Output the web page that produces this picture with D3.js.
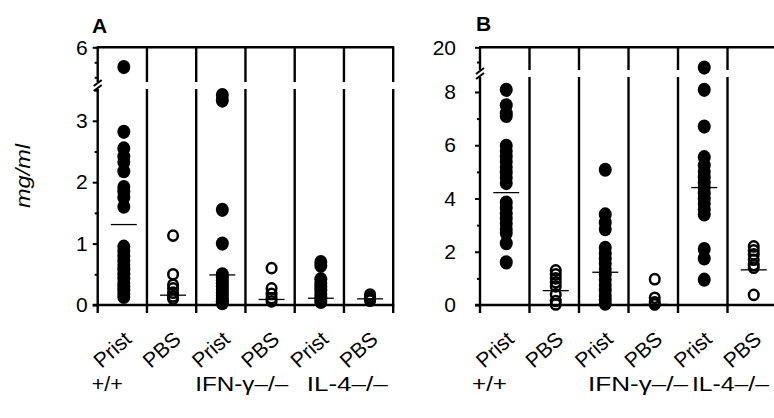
<!DOCTYPE html>
<html><head><meta charset="utf-8">
<script src="https://cdn.jsdelivr.net/npm/d3@7"></script>
<style>
body{margin:0;background:#fff;}
svg{display:block;font-family:"Liberation Sans",Arial,Helvetica,sans-serif;}
</style></head>
<body><svg id="chart" width="774" height="418"></svg>
<script>
// ---------- data ----------
const categories = ["Prist","PBS","Prist","PBS","Prist","PBS"];
const groups = ["+/+","IFN-γ–/–","IL-4–/–"];
const filledCat = [true,false,true,false,true,false];

// Panel A (mg/ml)
const aWtPrist  = [5.34,2.82,2.55,2.42,2.33,2.18,1.92,1.85,1.75,1.6,0.95,0.88,0.8,0.72,0.65,0.58,0.5,0.43,0.36,0.3,0.24,0.18,0.13];
const aWtPbs    = [1.13,0.5,0.33,0.27,0.2,0.14,0.1];
const aIfnPrist = [3.42,3.33,1.55,1.0,0.5,0.45,0.4,0.35,0.3,0.25,0.2,0.15,0.1,0.06,0.03];
const aIfnPbs   = [0.6,0.27,0.18,0.11,0.06];
const aIl4Prist = [0.7,0.64,0.42,0.36,0.3,0.24,0.18,0.12,0.08,0.05];
const aIl4Pbs   = [0.17,0.13,0.1,0.07];
const aMeans    = [1.31,0.16,0.49,0.09,0.11,0.1];
const aTicksMajorLow = [0,1,2,3];
const aTicksMinorLow = [0.5,1.5,2.5,3.5];
const aTicksMajorHigh = [6];
const aTicksMinorHigh = [5,5.5];

// Panel B (mg/ml)
const bWtPrist  = [8.08,7.5,7.2,7.1,5.98,5.78,5.58,5.38,5.18,4.98,4.78,4.58,3.85,3.65,3.45,3.25,3.05,2.85,2.7,2.32,1.6];
const bWtPbs    = [1.3,1.15,1.0,0.85,0.7,0.4,0.15,0.02];
const bIfnPrist = [5.08,3.4,3.1,2.85,2.15,1.95,1.75,1.55,1.35,1.15,0.95,0.75,0.55,0.35,0.2,0.05];
const bIfnPbs   = [0.97,0.27,0.1,0.02];
const bIl4Prist = [13.1,8.08,6.7,5.55,5.25,5.0,4.8,4.6,4.4,4.2,4.0,3.8,3.6,3.4,2.1,1.75,0.95];
const bIl4Pbs   = [2.2,2.05,1.9,1.7,1.5,1.4,0.38];
const bMeans    = [4.22,0.54,1.23,0.02,4.41,1.32];
const bTicksMajorLow = [0,2,4,6,8];
const bTicksMinorLow = [1,3,5,7];
const bTicksMajorHigh = [20];
const bTicksMinorHigh = [15];

// ---------- drawing ----------
const svg = d3.select("#chart");
const FONT = '"Liberation Sans",Arial,Helvetica,sans-serif';
const LW = 2.4;

function drawPanel(cfg){
  const g = svg.append("g");
  const x = d3.scaleBand().domain(d3.range(categories.length)).range([cfg.x0, cfg.x0 + cfg.w]).padding(0);
  const lo = d3.scaleLinear().domain(cfg.lowDomain).range([cfg.yBottom, cfg.lowTopY]);
  const hi = d3.scaleLinear().domain(cfg.highDomain).range(cfg.highRange);
  const y = v => v > cfg.lowDomain[1] ? hi(v) : lo(v);
  const step = x.step();
  const cx = i => x(i) + step/2 + 1.5;

  // separators & right edge
  for(let k=1;k<=categories.length;k++){
    const xx = cfg.x0 + k*step;
    g.append("line").attr("x1",xx).attr("x2",xx).attr("y1",cfg.yTop).attr("y2",cfg.gap[0]).attr("stroke","#000").attr("stroke-width",LW);
    g.append("line").attr("x1",xx).attr("x2",xx).attr("y1",cfg.gap[1]).attr("y2",cfg.yBottom).attr("stroke","#000").attr("stroke-width",LW);
  }
  // bottom ticks
  for(let k=0;k<=categories.length;k++){
    const xx = cfg.x0 + k*step;
    g.append("line").attr("x1",xx).attr("x2",xx).attr("y1",cfg.yBottom).attr("y2",cfg.yBottom+8).attr("stroke","#000").attr("stroke-width",LW);
  }
  // top & bottom lines
  g.append("line").attr("x1",cfg.x0-1).attr("x2",cfg.x0+cfg.w+1).attr("y1",cfg.yTop).attr("y2",cfg.yTop).attr("stroke","#000").attr("stroke-width",LW);
  g.append("line").attr("x1",cfg.x0-5).attr("x2",cfg.x0+cfg.w+1).attr("y1",cfg.yBottom).attr("y2",cfg.yBottom).attr("stroke","#000").attr("stroke-width",LW);
  // y axis segments
  g.append("line").attr("x1",cfg.x0).attr("x2",cfg.x0).attr("y1",cfg.yTop).attr("y2",cfg.gap[0]).attr("stroke","#000").attr("stroke-width",LW);
  g.append("line").attr("x1",cfg.x0).attr("x2",cfg.x0).attr("y1",cfg.gap[1]).attr("y2",cfg.yBottom).attr("stroke","#000").attr("stroke-width",LW);
  // break slashes
  [cfg.gap[0]+1, cfg.gap[1]-1].forEach(yy=>{
    g.append("line").attr("x1",cfg.x0-4).attr("x2",cfg.x0+4).attr("y1",yy+3).attr("y2",yy-3).attr("stroke","#000").attr("stroke-width",2);
  });

  function axis(scale, major, minor){
    const ga = g.append("g").attr("transform",`translate(${cfg.x0},0)`);
    ga.call(d3.axisLeft(scale).tickValues(major).tickSize(5).tickPadding(cfg.pad).tickFormat(d3.format("d")));
    const gm = g.append("g").attr("transform",`translate(${cfg.x0},0)`);
    gm.call(d3.axisLeft(scale).tickValues(minor).tickSize(3).tickFormat(""));
    [ga,gm].forEach(a=>{
      a.select(".domain").remove();
      a.selectAll("line").attr("stroke","#000").attr("stroke-width",2);
      a.selectAll("text").attr("font-size",21).attr("font-family",FONT).attr("fill","#000");
    });
  }
  axis(lo, cfg.majLow, cfg.minLow);
  axis(hi, cfg.majHigh, cfg.minHigh);

  // points
  cfg.series.forEach((vals,i)=>{
    const sel = g.append("g").selectAll("ellipse").data(vals).enter().append("ellipse")
      .attr("cx", cx(i)).attr("cy", d=>y(d));
    if(filledCat[i]){
      sel.attr("rx",6.5).attr("ry",7.1).attr("fill","#000");
    } else {
      sel.attr("rx",4.8).attr("ry",5.1).attr("fill","none").attr("stroke","#000").attr("stroke-width",2.5);
    }
  });
  // means
  g.append("g").selectAll("line").data(cfg.means).enter().append("line")
    .attr("x1",(d,i)=>cx(i)-13).attr("x2",(d,i)=>cx(i)+13)
    .attr("y1",d=>y(d)).attr("y2",d=>y(d)).attr("stroke","#000").attr("stroke-width",1.3);

  // category labels
  categories.forEach((c,i)=>{
    g.append("text").text(c).attr("font-size",21).attr("font-family",FONT).attr("text-anchor","end")
      .attr("transform",`translate(${cx(i)+9},341) rotate(-42)`);
  });
  // group labels
  groups.forEach((gl,j)=>{
    g.append("text").text(gl).attr("font-size",19.5).attr("font-family",FONT)
      .attr("x", x(j*2) + cfg.groupOff[j]).attr("y", cfg.groupY)
      .attr("textLength", cfg.groupLen[j]).attr("lengthAdjust","spacingAndGlyphs");
  });
  // panel letter
  g.append("text").text(cfg.letter).attr("font-size",21).attr("font-weight","bold").attr("font-family",FONT)
    .attr("x",cfg.letterX).attr("y",cfg.letterY);
}

drawPanel({
  letter:"A", letterX:92, letterY:33,
  x0:97.7, w:295.5, yTop:47.3, yBottom:305, gap:[82,89],
  lowDomain:[0,3.5], lowTopY:90.1, highDomain:[5,6], highRange:[77.3,47.3],
  majLow:aTicksMajorLow, minLow:aTicksMinorLow, majHigh:aTicksMajorHigh, minHigh:aTicksMinorHigh,
  pad:5,
  series:[aWtPrist,aWtPbs,aIfnPrist,aIfnPbs,aIl4Prist,aIl4Pbs], means:aMeans,
  groupOff:[-6,-1,12], groupLen:[31,93,81], groupY:391
});
drawPanel({
  letter:"B", letterX:476, letterY:31,
  x0:480, w:297, yTop:47.3, yBottom:305, gap:[70,77],
  lowDomain:[0,8.6], lowTopY:76, highDomain:[10,20], highRange:[76.7,47.3],
  majLow:bTicksMajorLow, minLow:bTicksMinorLow, majHigh:bTicksMajorHigh, minHigh:bTicksMinorHigh,
  pad:19,
  series:[bWtPrist,bWtPbs,bIfnPrist,bIfnPbs,bIl4Prist,bIl4Pbs], means:bMeans,
  groupOff:[-8,9,14], groupLen:[35,100,77], groupY:391
});

// y-axis title
svg.append("text").text("mg/ml").attr("font-size",21).attr("font-style","italic").attr("font-family",FONT)
  .attr("text-anchor","middle").attr("transform","translate(30,176) rotate(-90)")
  .attr("textLength",64).attr("lengthAdjust","spacingAndGlyphs");
</script>
</body></html>
